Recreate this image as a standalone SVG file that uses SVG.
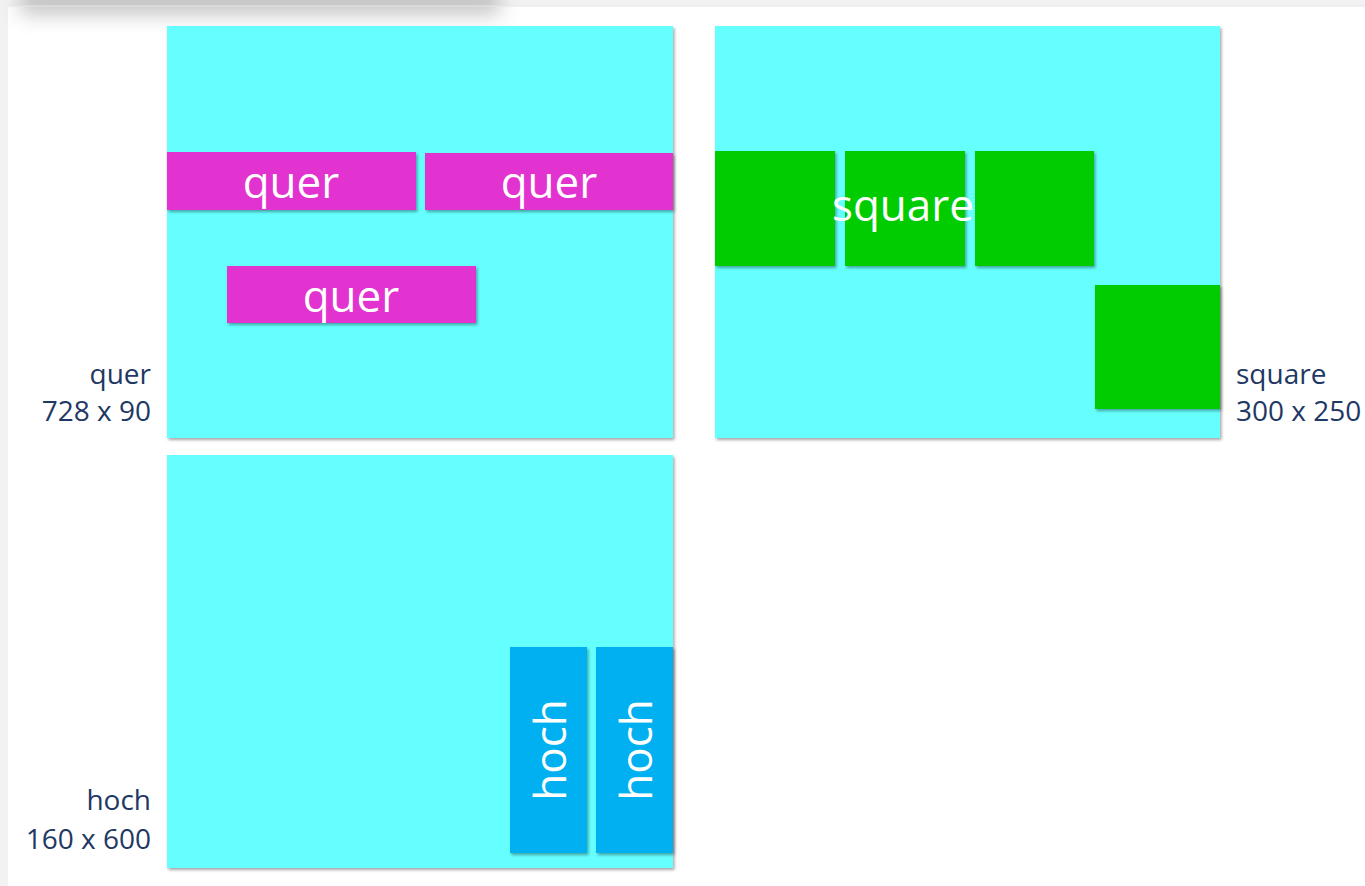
<svg xmlns="http://www.w3.org/2000/svg" width="1365" height="886" viewBox="0 0 1365 886">
<defs>
<filter id="sh" x="-5%" y="-5%" width="115%" height="115%">
<feDropShadow dx="1.5" dy="2" stdDeviation="1.5" flood-color="#000" flood-opacity="0.35"/>
</filter>
<filter id="blur" x="-20%" y="-200%" width="140%" height="500%">
<feGaussianBlur stdDeviation="10"/>
</filter>
<style>
.panel{fill:#66ffff;filter:url(#sh)}
.q{fill:#e232cf;filter:url(#sh)}
.g{fill:#00cc00;filter:url(#sh)}
.b{fill:#00b0f0;filter:url(#sh)}
.w{fill:#ffffff;font-family:"Open Sans",sans-serif;font-size:44px}
.lab{fill:#1f3864;font-family:"Open Sans",sans-serif;font-size:28px}
</style>
</defs>
<rect x="0" y="0" width="1365" height="886" fill="#f2f2f2"/>
<rect x="8" y="6" width="1357" height="880" fill="#ffffff"/>
<rect x="20" y="-10" width="480" height="24" fill="#9a9a9a" filter="url(#blur)" opacity="0.6"/>
<line x1="8" y1="6" x2="1365" y2="6" stroke="#e6e6e6" stroke-width="1"/>
<g id="quer-panel">
<rect class="panel" x="167" y="26" width="506" height="412"/>
<text class="lab" x="151" y="384" text-anchor="end">quer</text>
<text class="lab" x="151" y="421" text-anchor="end">728 x 90</text>
</g>
<g id="quer1"><rect class="q" x="167" y="152" width="249" height="58"/><text class="w" x="291" y="198" text-anchor="middle">quer</text></g>
<g id="quer2"><rect class="q" x="425" y="153" width="248" height="57"/><text class="w" x="549" y="198" text-anchor="middle">quer</text></g>
<g id="quer3"><rect class="q" x="227" y="266" width="249" height="57"/><text class="w" x="351" y="312" text-anchor="middle">quer</text></g>
<g id="square-panel">
<rect class="panel" x="715" y="26" width="505" height="412"/>
<text class="lab" x="1236" y="384">square</text>
<text class="lab" x="1236" y="421">300 x 250</text>
</g>
<g id="sq1"><rect class="g" x="715" y="151" width="120" height="115"/></g>
<g id="sq2"><rect class="g" x="845" y="151" width="120" height="115"/></g>
<g id="sq3"><rect class="g" x="975" y="151" width="119" height="115"/></g>
<g id="sq4"><rect class="g" x="1095" y="285" width="125" height="124"/></g>
<text class="w" x="903" y="221" text-anchor="middle">square</text>
<g id="hoch-panel">
<rect class="panel" x="167" y="455" width="506" height="413"/>
<text class="lab" x="151" y="810" text-anchor="end">hoch</text>
<text class="lab" x="151" y="849" text-anchor="end">160 x 600</text>
</g>
<g id="hoch1"><rect class="b" x="510" y="647" width="77" height="206"/><text class="w" transform="translate(566,750) rotate(-90)" text-anchor="middle">hoch</text></g>
<g id="hoch2"><rect class="b" x="596" y="647" width="77" height="206"/><text class="w" transform="translate(652,750) rotate(-90)" text-anchor="middle">hoch</text></g>
<g id="connectors"/>
</svg>
